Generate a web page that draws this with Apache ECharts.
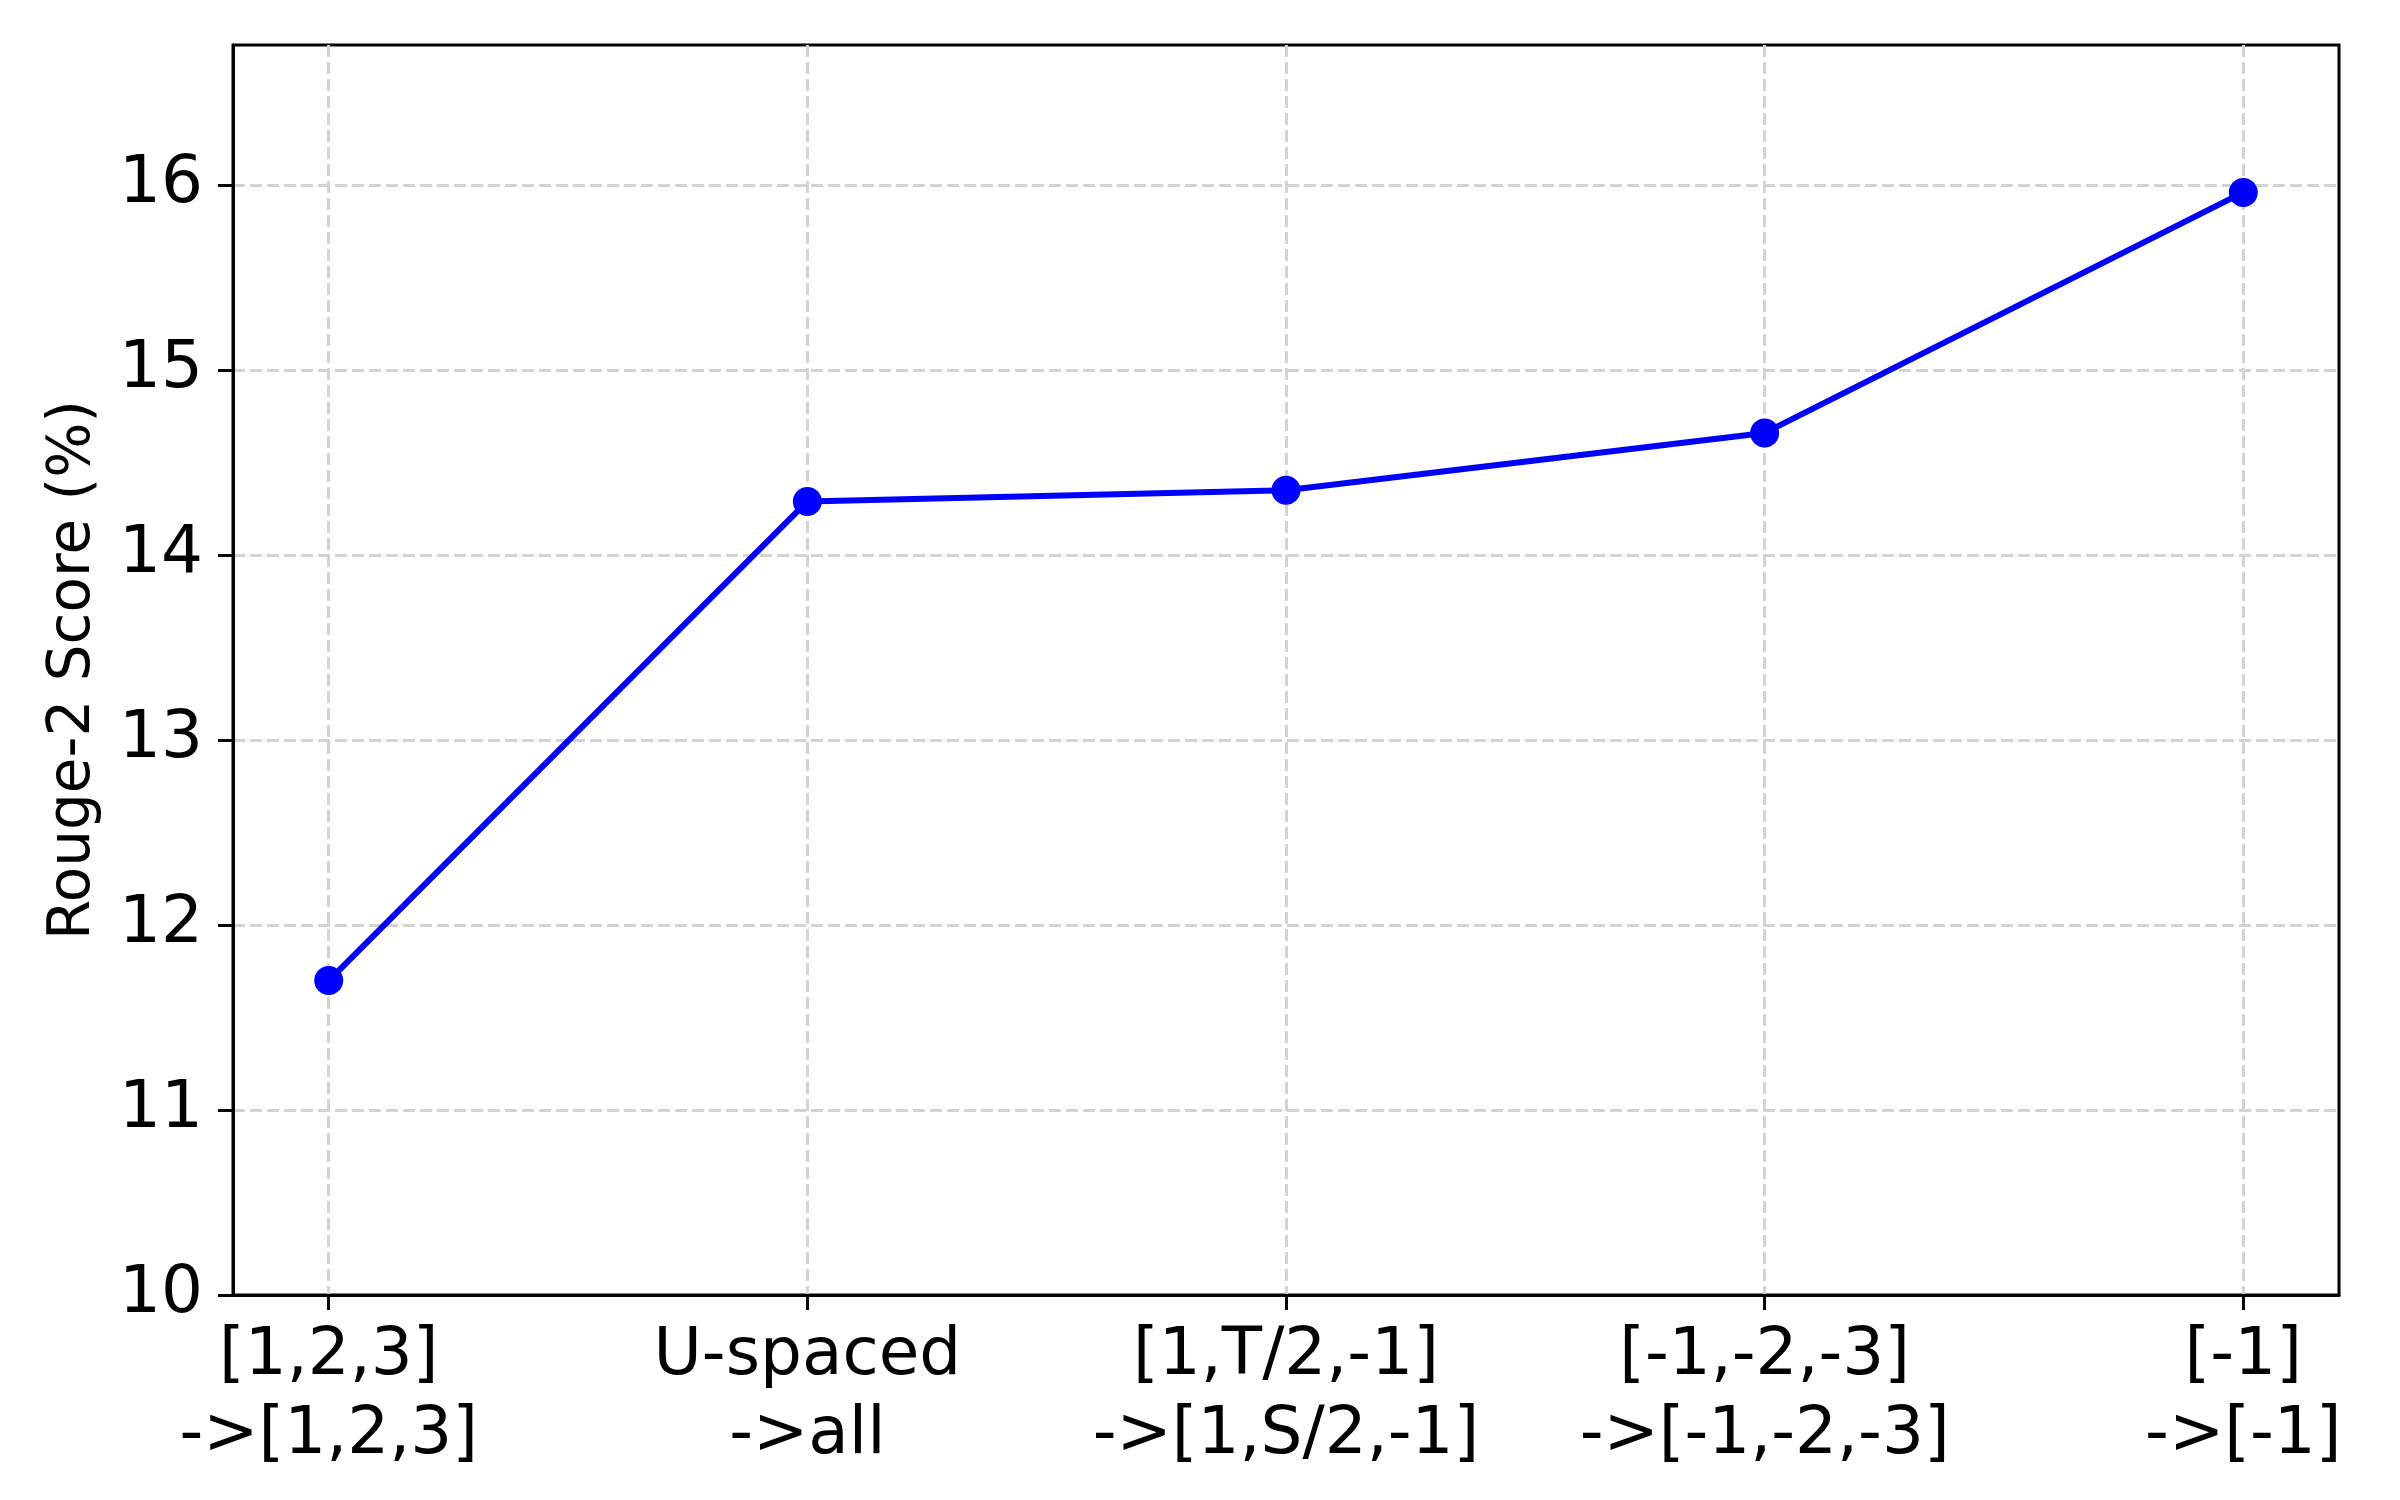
<!DOCTYPE html>
<html>
<head>
<meta charset="utf-8">
<script src="https://cdn.jsdelivr.net/npm/echarts@6/dist/echarts.min.js"></script>
<style>
  html, body { margin: 0; padding: 0; background: #fff; }
  #chart { width: 2400px; height: 1500px; }
</style>
</head>
<body>
<div id="chart"></div>
<script>
const categories = [
  '[1,2,3]\n->[1,2,3]',
  'U-spaced\n->all',
  '[1,T/2,-1]\n->[1,S/2,-1]',
  '[-1,-2,-3]\n->[-1,-2,-3]',
  '[-1]\n->[-1]'
]
const scores = [11.70, 14.29, 14.35, 14.66, 15.96]
const yTicks = [10, 11, 12, 13, 14, 15, 16]
const xTicks = [0, 1, 2, 3, 4]

const font = 'DejaVu Sans'
const gridColor = '#d3d3d3'

const chart = echarts.init(document.getElementById('chart'))

chart.setOption({
  animation: false,
  backgroundColor: '#ffffff',
  grid: {
    left: 233,
    right: 61,
    top: 45,
    bottom: 205,
    show: true,
    borderColor: '#000',
    borderWidth: 3
  },
  xAxis: {
    type: 'value',
    min: -0.2,
    max: 4.2,
    axisLine: { show: true, onZero: false, lineStyle: { color: '#000', width: 3 } },
    axisTick: {
      show: true,
      customValues: xTicks,
      length: 15,
      lineStyle: { color: '#000', width: 3 }
    },
    axisLabel: {
      customValues: xTicks,
      formatter: (v) => categories[Math.round(v)] || '',
      fontFamily: font,
      fontSize: 66,
      lineHeight: 79,
      color: '#000',
      margin: 22
    },
    splitLine: {
      show: true,
      lineStyle: { color: gridColor, width: 3, type: [12, 5] }
    }
  },
  yAxis: {
    type: 'value',
    min: 10,
    max: 16.757,
    name: 'Rouge-2 Score (%)',
    nameLocation: 'middle',
    nameGap: 130,
    nameTextStyle: { fontFamily: font, fontSize: 58, color: '#000' },
    axisLine: { show: true, onZero: false, lineStyle: { color: '#000', width: 3 } },
    axisTick: {
      show: true,
      customValues: yTicks,
      length: 15,
      lineStyle: { color: '#000', width: 3 }
    },
    axisLabel: {
      customValues: yTicks,
      fontFamily: font,
      fontSize: 66,
      color: '#000',
      margin: 30
    },
    splitLine: {
      show: true,
      lineStyle: { color: gridColor, width: 3, type: [12, 5] }
    }
  },
  series: [
    {
      type: 'line',
      data: scores.map((v, i) => [i, v]),
      symbol: 'circle',
      symbolSize: 29,
      lineStyle: { color: '#0000ff', width: 6 },
      itemStyle: { color: '#0000ff' }
    }
  ]
})
</script>
</body>
</html>
